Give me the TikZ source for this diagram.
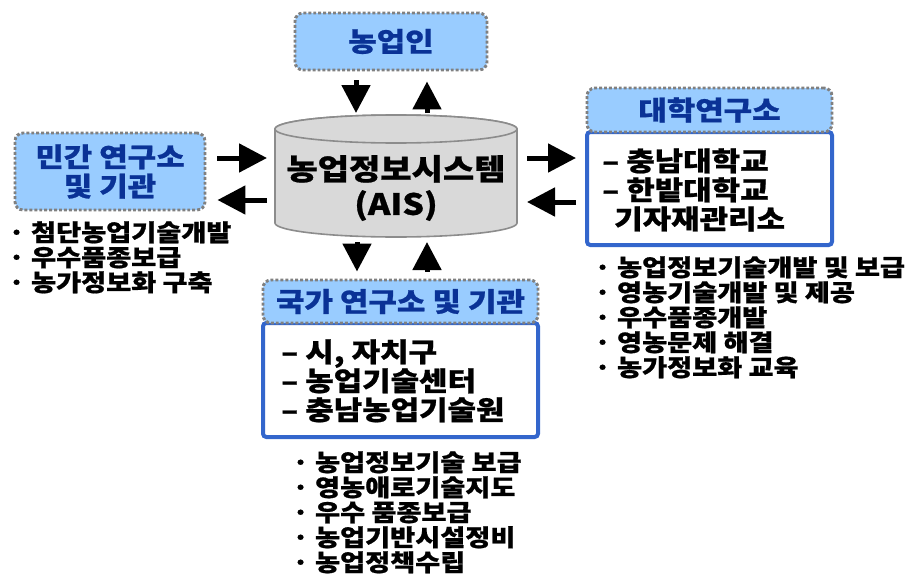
\documentclass[tikz,border=0pt]{standalone}
\usepackage{fontspec}
\setmainfont{Noto Sans CJK KR}[FakeStretch=1.16, BoldFeatures={FakeBold=0.8}]
\usetikzlibrary{arrows.meta,calc}
\definecolor{hdrfill}{HTML}{99CCFF}
\definecolor{hdrtext}{HTML}{0A3296}
\definecolor{dotgray}{HTML}{808080}
\definecolor{boxblue}{HTML}{3366CC}
\definecolor{cylfill}{HTML}{D9D9D9}
\definecolor{cylline}{HTML}{8C8C8C}
\begin{document}
\begin{tikzpicture}[x=0.75pt,y=-0.75pt,
  header/.style={draw=dotgray, fill=hdrfill, line width=2.2pt,
    dash pattern=on 2.2pt off 1.5pt, rounded corners=6pt, text=hdrtext,
    font=\fontsize{20}{24}\selectfont\bfseries, align=center, inner sep=0pt},
  bluebox/.style={draw=boxblue, fill=white, line width=3pt, rounded corners=2.5pt, inner sep=0pt},
  content/.style={font=\fontsize{20}{21.75}\selectfont\bfseries, align=left, inner sep=0pt},
  bullets/.style={font=\fontsize{17.6}{18.75}\selectfont\bfseries, align=left, inner sep=0pt},
  bigarrow/.style={line width=3.75pt, -{Triangle[width=21pt,length=21pt]}}]
\useasboundingbox (0,0) rectangle (906,578);

% central database cylinder
\path[draw=cylline, fill=cylfill, line width=1.2pt]
  (275,129) -- (275,223) arc[start angle=180, end angle=360, x radius=90.75pt, y radius=10.5pt]
  -- (517,129) arc[start angle=0, end angle=180, x radius=90.75pt, y radius=10.5pt] -- cycle;
\draw[cylline, fill=cylfill, line width=1.2pt] (396,129) ellipse[x radius=90.75pt, y radius=10.5pt];
\node[font=\fontsize{22}{26.25}\selectfont\bfseries, align=center, inner sep=0pt] (ais) at (396,188)
  {농업정보시스템\\(AIS)};
\coordinate (cyltop) at (396,115);
\coordinate (cylbot) at (396,237);
\coordinate (cylleft) at (275,176);
\coordinate (cylright) at (517,176);

% farmers
\node[header, minimum width=192*0.75pt, minimum height=57*0.75pt] (farmer) at (391,41.5) {농업인};

% private institutes
\node[header, minimum width=190*0.75pt, minimum height=77*0.75pt] (private) at (110,171.5)
  {민간 연구소\\[-2pt]및 기관};
\node[bullets, anchor=north west] (privlist) at (8,221)
  {· 첨단농업기술개발\\· 우수품종보급\\· 농가정보화 구축};

% university institutes
\node[bluebox, minimum width=245*0.75pt, minimum height=113*0.75pt] (univbox) at (709.5,188.5) {};
\node[header, minimum width=245*0.75pt, minimum height=44*0.75pt] (univhdr) at (709.5,110) {대학연구소};
\node[content, anchor=north west] (univlist) at (602,148)
  {– 충남대학교\\– 한밭대학교\\\hspace*{9pt}기자재관리소};
\node[bullets, anchor=north west] (univtasks) at (594,256)
  {· 농업정보기술개발 및 보급\\· 영농기술개발 및 제공\\· 우수품종개발\\· 영농문제 해결\\· 농가정보화 교육};

% national institutes
\node[bluebox, minimum width=275*0.75pt, minimum height=114*0.75pt] (natbox) at (400.5,380) {};
\node[header, minimum width=275*0.75pt, minimum height=43*0.75pt] (nathdr) at (400.5,301.5) {국가 연구소 및 기관};
\node[content, anchor=north west] (natlist) at (281,339)
  {– 시, 자치구\\– 농업기술센터\\– 충남농업기술원};
\node[bullets, anchor=north west] (nattasks) at (292,451)
  {· 농업정보기술 보급\\· 영농애로기술지도\\· 우수 품종보급\\· 농업기반시설정비\\· 농업정책수립};

% information flows
\draw[bigarrow] ($(farmer.south)+(-35,9)$) -- ($(cyltop)+(-40,-2)$);
\draw[bigarrow] ($(cyltop)+(31,-2)$) -- ($(farmer.south)+(36,10)$);
\draw[bigarrow] ($(private.east)+(11,-13.5)$) -- ($(cylleft)+(-8,-18)$);
\draw[bigarrow] ($(cylleft)+(-8,24)$) -- ($(private.east)+(11,28.5)$);
\draw[bigarrow] ($(cylright)+(10,-18)$) -- ($(univbox.west)+(-9,-30.5)$);
\draw[bigarrow] ($(univbox.west)+(-9,13.5)$) -- ($(cylright)+(10,26)$);
\draw[bigarrow] ($(cylbot)+(-39,5)$) -- ($(nathdr.north)+(-43.5,-7)$);
\draw[bigarrow] ($(nathdr.north)+(26.5,-7)$) -- ($(cylbot)+(31,5)$);
\end{tikzpicture}
\end{document}
